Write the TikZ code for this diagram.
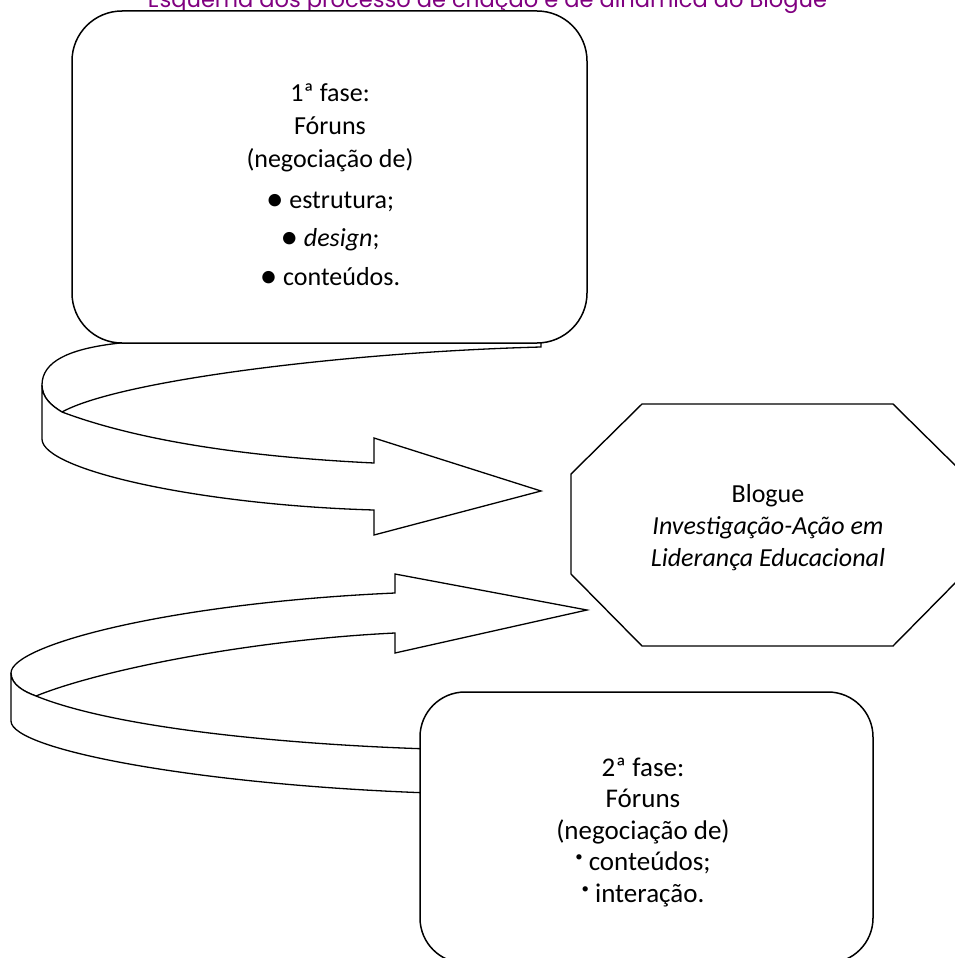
\documentclass[tikz,border=0pt]{standalone}
\usepackage{fontspec}
\setmainfont{Carlito}
\newfontfamily\titlefont{Poppins}
\usepackage{graphicx}
\definecolor{titlepurple}{RGB}{128,0,128}
\newcommand{\smbullet}{\raisebox{0.33em}{\scalebox{0.55}{\textbullet}}}
\newcommand{\bigbullet}{\raisebox{-0.08em}{\scalebox{1.35}{\textbullet}}}
\begin{document}
\begin{tikzpicture}[x=1pt,y=-1pt,
  ribbon/.style={draw=black, fill=white, line width=1.3pt, line join=miter},
  phasebox/.style={draw=black, fill=white, line width=1.5pt, inner sep=0pt},
  octa/.style={draw=black, fill=white, line width=1.4pt, line join=miter},
  boxtext/.style={align=center, inner sep=0pt, font=\fontsize{26}{33}\selectfont},
  boxtextb/.style={align=center, inner sep=0pt, font=\fontsize{27}{31.5}\selectfont},
]
\useasboundingbox (0,0) rectangle (955,958);
\clip (0,0) rectangle (955,958);

% title (cut off at the top)
\node[anchor=base, inner sep=0pt, text=titlepurple] (title) at (487.5,8)
  {\resizebox{679pt}{!}{\titlefont\fontsize{20}{24}\selectfont Esquema dos processo de criação e de dinâmica do Blogue}};

% ribbon 1, back part
\draw[ribbon] (541,342) -- (300,342) .. controls (150,336) and (42,338) .. (42,385)
  .. controls (42,398) and (52,406) .. (62,412)
  .. controls (120,380) and (350,352) .. (541,347) -- cycle;

% first phase box
\node[phasebox, rounded corners=50pt, minimum width=515pt, minimum height=332pt] (box1) at (329.5,177) {};
\node[boxtext, anchor=base] (t1) at (330,285)
  {1ª fase:\\ Fóruns\\ (negociação de)\\[8pt] \bigbullet{} estrutura;\\[5pt] \bigbullet{} \textit{design};\\[6pt] \bigbullet{} conteúdos.};

% ribbon 1, front part with arrow head
\draw[ribbon] (42,385) .. controls (42,398) and (52,406) .. (62,412)
  .. controls (150,445) and (270,458) .. (374,463) -- (374,438) -- (541,491) -- (374,535) -- (374,510)
  .. controls (200,505) and (42,470) .. (42,439) -- cycle;

% blog octagon
\draw[octa] (642,404) coordinate (o1) -- (893,404) coordinate (o2) -- (964,474) coordinate (o3)
  -- (964,574) coordinate (o4) -- (893,646) coordinate (o5) -- (642,646) coordinate (o6)
  -- (571,574) coordinate (o7) -- (571,474) coordinate (o8) -- cycle;
\node[align=center, inner sep=0pt, font=\fontsize{26}{32}\selectfont, anchor=base] (blog) at (768,566)
  {Blogue\\ \textit{Investigação-Ação em}\\ \textit{Liderança Educacional}};

% ribbon 2, back part with arrow head
\draw[ribbon] (11,673) .. controls (11,645) and (170,603) .. (395,593) -- (395,574) -- (587,610)
  -- (395,653) -- (395,633) .. controls (250,640) and (100,670) .. (36,696)
  .. controls (25,692) and (11,685) .. (11,673) -- cycle;

% ribbon 2, front part
\draw[ribbon] (11,673) .. controls (11,685) and (25,692) .. (36,696)
  .. controls (120,730) and (300,745) .. (430,749) -- (430,793)
  .. controls (200,785) and (11,750) .. (11,721) -- cycle;

% second phase box
\node[phasebox, rounded corners=45pt, minimum width=453pt, minimum height=271pt] (box2) at (646.5,827.5) {};
\node[boxtextb, anchor=base] (t2) at (643,902)
  {2ª fase:\\ Fóruns\\ (negociação de)\\ \smbullet{} conteúdos;\\ \smbullet{} interação.};
\end{tikzpicture}
\end{document}
